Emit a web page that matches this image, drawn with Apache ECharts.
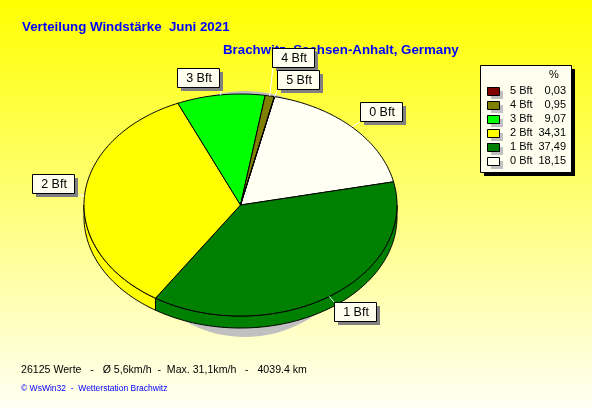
<!DOCTYPE html>
<html><head><meta charset="utf-8">
<style>html,body{margin:0;padding:0;background:#fff}#c{width:592px;height:408px}</style>
<script src="https://cdn.jsdelivr.net/npm/echarts@6/dist/echarts.min.js"></script>
</head><body><div id="c"></div>
<script>
const categories = ['0 Bft','1 Bft','2 Bft','3 Bft','4 Bft','5 Bft'];
const percents = [18.15,37.49,34.31,9.07,0.95,0.03];
const colors = ['#fffff4','#008000','#ffff00','#00ff00','#808000','#800000'];
const titleText = 'Verteilung Windstärke  Juni 2021';
const subtitleText = 'Brachwitz, Sachsen-Anhalt, Germany';
const statsText = '26125 Werte   -   Ø 5,6km/h  -  Max. 31,1km/h   -   4039.4 km';
const creditText = '© WsWin32  -  Wetterstation Brachwitz';

const CX=240.5, CY=205, RX=156.5, RY=111, DEPTH=12, START=77.4;
const labelBoxes = [[360,102],[334,302],[32,174],[177,68],[272,48],[277,70]];
const leaderEnds = [[360,122],[334,302],[74,194],[221,87],[273,67],[278,89]];
const BW=42, BH=19;
const total = percents.reduce((a,b)=>a+b,0);
const pt=(t,dy)=>{const r=t*Math.PI/180;return [CX+RX*Math.cos(r),CY-RY*Math.sin(r)+(dy||0)];};
function makeRender(idx){
  const before = percents.slice(0,idx).reduce((a,b)=>a+b,0);
  return function(params,api){
    const v = api.value(0);
    const a0 = START-before/total*360, a1 = a0-v/total*360;
    const top=[[CX,CY]];
    const n=Math.max(2,Math.ceil((a0-a1)));
    for(let i=0;i<=n;i++) top.push(pt(a0+(a1-a0)*i/n));
    const children=[];
    let s0=Math.min(a0,0), s1=Math.max(a1,-180);
    if(s0>s1){
      const upper=[],lower=[];
      const m=Math.max(2,Math.ceil(s0-s1));
      for(let i=0;i<=m;i++){const t=s0+(s1-s0)*i/m;upper.push(pt(t));lower.push(pt(t,DEPTH));}
      children.push({type:'polygon',z2:1,shape:{points:upper.concat(lower.reverse())},
        style:{fill:colors[idx],stroke:'#000',lineWidth:1}});
    }
    children.push({type:'polygon',z2:2,shape:{points:top},
      style:{fill:colors[idx],stroke:'#000',lineWidth:1,lineJoin:'round'}});
    const mid=pt((a0+a1)/2), end=leaderEnds[idx], b=labelBoxes[idx];
    children.push({type:'line',z2:3,shape:{x1:mid[0],y1:mid[1],x2:end[0],y2:end[1]},style:{stroke:'#fff',lineWidth:1}});
    children.push({type:'rect',z2:4+idx*3,shape:{x:b[0]+4,y:b[1]+4,width:BW,height:BH},style:{fill:'#808080'}});
    children.push({type:'rect',z2:5+idx*3,shape:{x:b[0]+.5,y:b[1]+.5,width:BW,height:BH},style:{fill:'#fffff0',stroke:'#000',lineWidth:1}});
    children.push({type:'text',z2:6+idx*3,style:{x:b[0]+BW/2+1,y:b[1]+BH/2+1,text:categories[idx],align:'center',verticalAlign:'middle',fill:'#000',font:'12.5px "Liberation Sans"'}});
    return {type:'group',children};
  };
}
const chart=echarts.init(document.getElementById('c'),null,{renderer:'canvas'});
const txt=(text,left,top,color,font,size,weight)=>({text,left,top,padding:0,textStyle:{color,fontFamily:font,fontSize:size,fontWeight:weight||'normal'}});
const swatchShadows = categories.map((c,i)=>({type:'rect',z:3,silent:true,
  shape:{x:491,y:91+14*i,width:12,height:8},style:{fill:'#c0c0c0'}}));
const swatchOutlines = categories.map((c,i)=>({type:'rect',z:9,silent:true,
  shape:{x:487.5,y:87.5+14*i,width:12,height:8},style:{fill:'none',stroke:'#000',lineWidth:1}}));
chart.setOption({
  animation:false,
  backgroundColor:{type:'linear',x:0,y:0,x2:0,y2:1,colorStops:[{offset:0,color:'#ffff00'},{offset:1,color:'#fffff4'}]},
  title:[
    txt(titleText,22,21,'#0000ff','Liberation Sans',13.3,'bold'),
    txt(subtitleText,223,44,'#0000ff','Liberation Sans',13.3,'bold'),
    txt(statsText,21,365,'#000','Liberation Sans',10.6),
    txt(creditText,21,384,'#0000ff','Liberation Sans',8.5),
    Object.assign(txt('%',549,69,'#000','Liberation Sans',11),{z:8})
  ],
  graphic:{elements:[
    {type:'ellipse',z:1,silent:true,shape:{cx:245,cy:214,rx:122,ry:123},style:{fill:'#c0c0c0'}},
    {type:'rect',z:2,silent:true,shape:{x:484,y:69,width:91,height:107},style:{fill:'#000'}},
    {type:'rect',z:2,silent:true,shape:{x:480.5,y:65.5,width:91,height:107},style:{fill:'#fffff0',stroke:'#000',lineWidth:1}}
  ].concat(swatchShadows,swatchOutlines)},
  legend:{
    orient:'vertical',left:480,top:65,
    data:categories.slice().reverse(),
    selectedMode:false,
    icon:'rect',itemWidth:12,itemHeight:8,itemGap:0,
    padding:[19,5,4,7],
    backgroundColor:'transparent',borderWidth:0,borderRadius:0,
    itemStyle:{borderWidth:0},
    formatter:name=>{const v=percents[categories.indexOf(name)];return '{n|'+name+'}{v|'+v.toFixed(2).replace('.',',')+'}';},
    textStyle:{fontFamily:'Liberation Sans',fontSize:11,color:'#000',lineHeight:14,padding:[0,0,0,6],
      rich:{n:{width:30,fontFamily:'Liberation Sans',fontSize:11,lineHeight:14},v:{width:26,align:'right',fontFamily:'Liberation Sans',fontSize:11,lineHeight:14}}}
  },
  series:categories.map((name,i)=>({
    type:'custom',name,coordinateSystem:'none',z:10,silent:true,
    itemStyle:{color:colors[i]},
    renderItem:makeRender(i),
    data:[[percents[i]]]
  }))
});
</script></body></html>
